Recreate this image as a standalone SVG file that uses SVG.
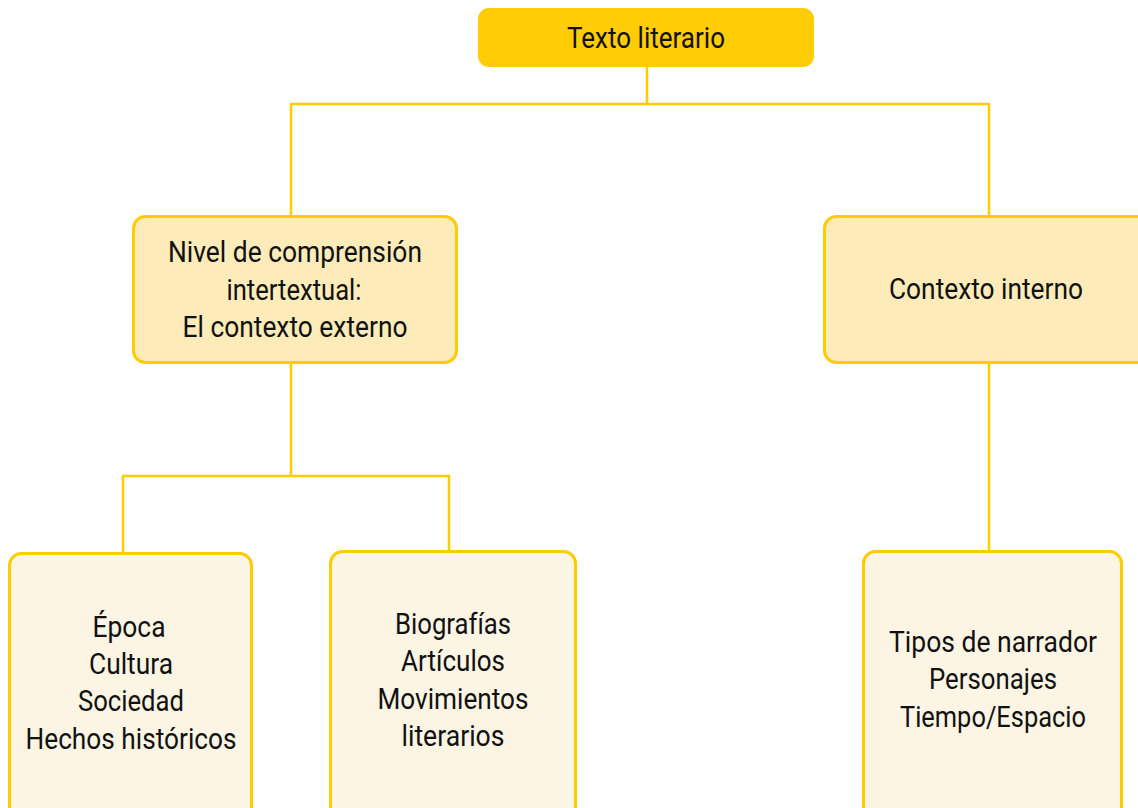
<svg xmlns="http://www.w3.org/2000/svg" width="1138" height="808" viewBox="0 0 1138 808">
<style>
text{font-family:"Roboto","Liberation Sans",sans-serif;font-size:29px;fill:#111;text-anchor:middle}
.top{fill:#FFCC05;stroke:#FFCC05;stroke-width:2}
.mid{fill:#FDEBB9;stroke:#FFCC00;stroke-width:3}
.low{fill:#FDF5E4;stroke:#FFCC00;stroke-width:3}
.conn{fill:none;stroke:#FFCC00;stroke-width:2.5}
</style>
<rect width="1138" height="808" fill="#fff"/>
<g id="connectors">
<path class="conn" d="M647 66V104M291 216V104H989V216"/>
<path class="conn" d="M291 363V476M123 553V476H449V552"/>
<path class="conn" d="M989 363V552"/>
</g>
<g id="n-texto">
<rect class="top" x="479" y="9" width="334" height="57" rx="10"/>
<text x="646" y="48" textLength="158" lengthAdjust="spacingAndGlyphs">Texto literario</text>
</g>
<g id="n-nivel">
<rect class="mid" x="133.5" y="216.5" width="323" height="146" rx="12"/>
<text x="295" y="262" textLength="254" lengthAdjust="spacingAndGlyphs">Nivel de comprensión</text>
<text x="294" y="300" textLength="135" lengthAdjust="spacingAndGlyphs">intertextual:</text>
<text x="295" y="337" textLength="225" lengthAdjust="spacingAndGlyphs">El contexto externo</text>
</g>
<g id="n-interno">
<rect class="mid" x="824.5" y="216.5" width="330" height="146" rx="12"/>
<text x="986" y="299" textLength="194" lengthAdjust="spacingAndGlyphs">Contexto interno</text>
</g>
<g id="n-epoca">
<rect class="low" x="9.5" y="553.5" width="242" height="270" rx="12"/>
<text x="129" y="637" textLength="73" lengthAdjust="spacingAndGlyphs">Época</text>
<text x="131" y="674" textLength="84" lengthAdjust="spacingAndGlyphs">Cultura</text>
<text x="131" y="711" textLength="106" lengthAdjust="spacingAndGlyphs">Sociedad</text>
<text x="131" y="749" textLength="211" lengthAdjust="spacingAndGlyphs">Hechos históricos</text>
</g>
<g id="n-bio">
<rect class="low" x="330.5" y="551.5" width="245" height="270" rx="12"/>
<text x="453" y="634" textLength="116" lengthAdjust="spacingAndGlyphs">Biografías</text>
<text x="453" y="671" textLength="104" lengthAdjust="spacingAndGlyphs">Artículos</text>
<text x="453" y="709" textLength="151" lengthAdjust="spacingAndGlyphs">Movimientos</text>
<text x="453" y="746" textLength="103" lengthAdjust="spacingAndGlyphs">literarios</text>
</g>
<g id="n-tipos">
<rect class="low" x="863.5" y="551.5" width="258" height="270" rx="12"/>
<text x="993" y="652" textLength="208" lengthAdjust="spacingAndGlyphs">Tipos de narrador</text>
<text x="993" y="689" textLength="128" lengthAdjust="spacingAndGlyphs">Personajes</text>
<text x="993" y="727" textLength="186" lengthAdjust="spacingAndGlyphs">Tiempo/Espacio</text>
</g>
</svg>
